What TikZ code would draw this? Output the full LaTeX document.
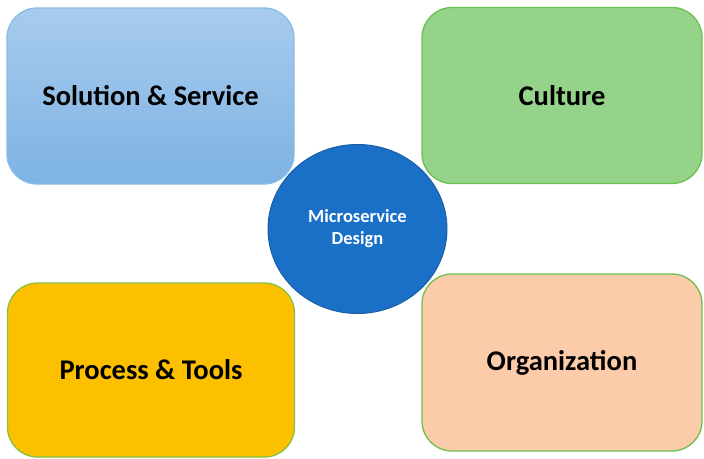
\documentclass[tikz,border=0pt]{standalone}
\usepackage{fontspec}
\setmainfont{Carlito}
\usetikzlibrary{shapes.geometric}
\definecolor{blueTop}{HTML}{A8CBEE}
\definecolor{blueBot}{HTML}{7DB3E3}
\definecolor{blueEdge}{HTML}{86BCE8}
\definecolor{greenFill}{HTML}{96D38A}
\definecolor{greenEdge}{HTML}{6CC04E}
\definecolor{goldFill}{HTML}{FCC000}
\definecolor{peachFill}{HTML}{FBCBAA}
\definecolor{circFill}{HTML}{1A6FC6}
\definecolor{circEdge}{HTML}{1E5EA6}
\begin{document}
\begin{tikzpicture}[x=1pt,y=-1pt,
  card/.style={rounded corners=30pt, minimum width=287pt, minimum height=176pt,
    inner sep=0pt, line width=1.3pt, font=\fontsize{28.5}{32}\selectfont\bfseries, text=black},
  hub/.style={ellipse, minimum width=179pt, minimum height=169pt, inner sep=0pt,
    fill=circFill, draw=circEdge, line width=1pt, text=white, align=center,
    font=\fontsize{18.5}{22}\selectfont\bfseries}]
\useasboundingbox (0,0) rectangle (704,458);
\node[card, draw=blueEdge, top color=blueTop, bottom color=blueBot] (sol) at (150.5,96) {Solution \& Service};
\node[card, draw=greenEdge, fill=greenFill, minimum width=280pt] (cul) at (562,95.5) {Culture};
\node[card, draw=greenEdge!80!goldFill, fill=goldFill, minimum height=174pt] (proc) at (151,370) {Process \& Tools};
\node[card, draw=greenEdge, fill=peachFill, minimum width=280pt, minimum height=177pt] (org) at (562,362.5) {Organization};
\node[hub] (mid) at (357.5,229) {Microservice\\Design};
\end{tikzpicture}
\end{document}
